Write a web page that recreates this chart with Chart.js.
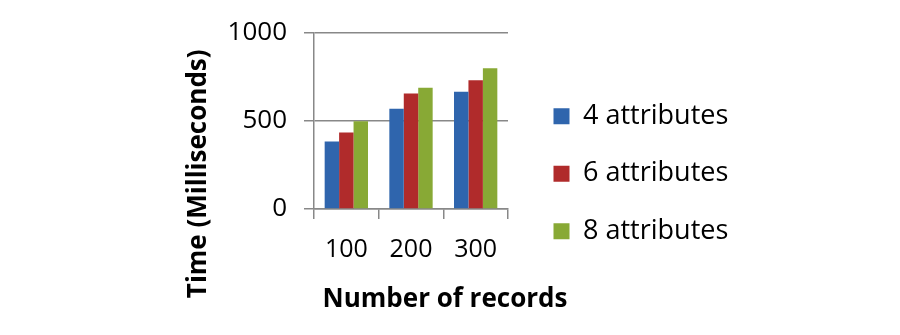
<!DOCTYPE html>
<html>
<head>
<meta charset="utf-8">
<script src="https://cdn.jsdelivr.net/npm/chart.js@4.4.1/dist/chart.umd.min.js"></script>
<style>
  body { margin: 0; background: #fff; }
</style>
</head>
<body>
<canvas id="myChart" width="900" height="335"></canvas>
<script>
// data
const categories = ["100", "200", "300"];
const attr4 = [382, 568, 664];
const attr6 = [433, 655, 730];
const attr8 = [498, 687, 798];
const seriesNames = ["4 attributes", "6 attributes", "8 attributes"];
const yTicks = [0, 500, 1000];

const gridColor = "#888888";
const font = "'Open Sans', sans-serif";
const legendSize = 27;
const legendPad = 30.5;
const titleSize = 26;

const ctx = document.getElementById("myChart").getContext("2d");

// work out the side paddings so the legend box starts near x=558
ctx.font = legendSize + "px " + font;
let textW = 0;
seriesNames.forEach(n => { textW = Math.max(textW, ctx.measureText(n).width); });
const legendW = legendPad + 16 + legendSize / 2 + textW + 10;
const padR = 900 - 523 - legendW;
const padL = padR - 10;
const titleLH = titleSize * 1.2;
const subPadTop = 199 - padL - titleLH / 2;
const yWidth = 314 - padL - subPadTop - titleLH;

const myChart = new Chart(ctx, {
  type: "bar",
  data: {
    labels: categories,
    datasets: [
      { label: seriesNames[0], data: attr4, backgroundColor: "#2F65AD" },
      { label: seriesNames[1], data: attr6, backgroundColor: "#B02B2B" },
      { label: seriesNames[2], data: attr8, backgroundColor: "#88A935" }
    ]
  },
  options: {
    responsive: false,
    animation: false,
    categoryPercentage: 0.67,
    barPercentage: 1.0,
    layout: { padding: { left: padL, right: padR, top: 32, bottom: 19.4 } },
    scales: {
      x: {
        grid: { drawOnChartArea: false, drawTicks: true, tickLength: 10, color: gridColor, lineWidth: 1.5 },
        border: { color: gridColor, width: 1.5 },
        ticks: { color: "#000", padding: 16, font: { family: font, size: 25 } },
        afterFit: (s) => { s.height = 335 - 19.4 - titleLH - 209; }
      },
      y: {
        min: 0,
        max: 1000,
        afterBuildTicks: (s) => { s.ticks = yTicks.map(v => ({ value: v })); },
        grid: { color: gridColor, tickLength: 10, lineWidth: 1.5 },
        border: { color: gridColor, width: 1.5 },
        ticks: {
          color: "#000",
          padding: 17,
          font: { family: font, size: 26 },
          callback: (v) => String(v)
        },
        afterFit: (s) => { s.width = yWidth; }
      },
      spacer: {
        type: "linear",
        position: "right",
        grid: { display: false },
        border: { display: false },
        ticks: { display: false },
        afterFit: (s) => { s.width = 15; }
      }
    },
    plugins: {
      legend: {
        position: "right",
        maxWidth: 400,
        labels: {
          boxWidth: 16,
          boxHeight: 16,
          padding: legendPad,
          color: "#000",
          font: { family: font, size: legendSize }
        }
      },
      title: {
        display: true,
        position: "bottom",
        text: "Number of records",
        color: "#000",
        padding: 0,
        font: { family: font, size: titleSize, weight: "bold" }
      },
      subtitle: {
        display: true,
        position: "left",
        text: "Time (Milliseconds)",
        color: "#000",
        padding: { top: subPadTop, bottom: 0 },
        font: { family: font, size: titleSize, weight: "bold" }
      },
      tooltip: { enabled: false }
    }
  }
});
</script>
</body>
</html>
